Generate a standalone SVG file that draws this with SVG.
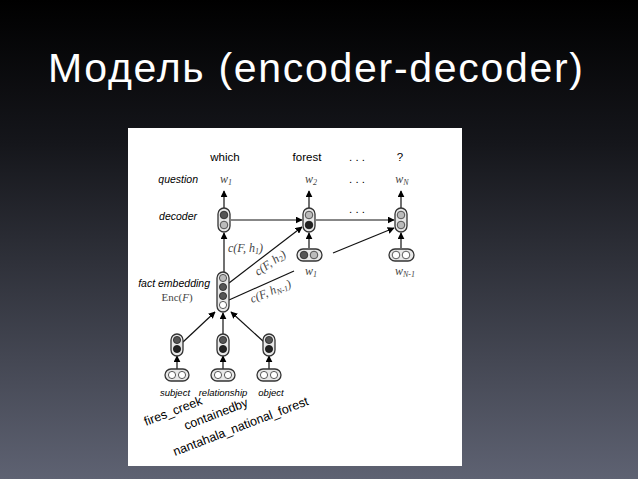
<svg xmlns="http://www.w3.org/2000/svg" width="638" height="479" viewBox="0 0 638 479">
<defs>
<linearGradient id="bg" x1="0" y1="0" x2="0" y2="1"><stop offset="0" stop-color="#000"/><stop offset="0.3" stop-color="#15161b"/><stop offset="1" stop-color="#5e6272"/></linearGradient>
<marker id="ar" viewBox="0 0 10 10" refX="9" refY="5" markerWidth="7" markerHeight="7" markerUnits="userSpaceOnUse" orient="auto"><path d="M0,0L10,5L0,10z" fill="#000"/></marker>
<style>
.cell{fill:#e8e8e8;stroke:#333;stroke-width:1.3}
.d{fill:#555;stroke:#222;stroke-width:0.8}
.k{fill:#222;stroke:#111;stroke-width:0.8}
.l{fill:#bbb;stroke:#333;stroke-width:0.8}
.w{fill:#fff;stroke:#333;stroke-width:0.8}
.ln{stroke:#111;stroke-width:1.2;fill:none}
.a{marker-end:url(#ar)}
.s{font-family:"Liberation Sans",Arial,sans-serif;font-size:11.5px;fill:#000}
.i{font-family:"Liberation Sans",Arial,sans-serif;font-size:10.5px;font-style:italic;fill:#000}
.b{font-family:"Liberation Sans",Arial,sans-serif;font-size:9.5px;font-style:italic;fill:#000}
.m{font-family:"Liberation Serif","Times New Roman",serif;font-size:12px;font-style:italic;fill:#444}
.n{font-family:"Liberation Serif","Times New Roman",serif;font-size:11px;fill:#444}
.r{font-family:"Liberation Sans",Arial,sans-serif;font-size:12.5px;fill:#000}
</style>
</defs>
<rect width="638" height="479" fill="url(#bg)"/>
<text x="48" y="82" font-family="Liberation Sans,Arial,sans-serif" font-size="41" fill="#fff" textLength="535">Модель (encoder-decoder)</text>
<rect x="128" y="128" width="334" height="338" fill="#fff"/>
<g id="labels">
<text class="s" x="225" y="161" text-anchor="middle">which</text>
<text class="s" x="307" y="161" text-anchor="middle">forest</text>
<text class="s" x="357" y="161" text-anchor="middle">. . .</text>
<text class="s" x="400" y="161" text-anchor="middle">?</text>
<text class="i" x="198" y="183" text-anchor="end">question</text>
<text class="i" x="197" y="220" text-anchor="end">decoder</text>
<text class="i" x="210" y="287" text-anchor="end">fact embedding</text>
<text class="n" x="177" y="301" text-anchor="middle">Enc(<tspan font-style="italic">F</tspan>)</text>
<text class="m" x="226" y="183" text-anchor="middle">w<tspan font-size="8" dy="2">1</tspan></text>
<text class="m" x="311" y="183" text-anchor="middle">w<tspan font-size="8" dy="2">2</tspan></text>
<text class="s" x="357" y="183" text-anchor="middle">. . .</text>
<text class="m" x="402" y="183" text-anchor="middle">w<tspan font-size="8" dy="2">N</tspan></text>
<text class="s" x="357" y="213" text-anchor="middle">. . .</text>
<text class="m" x="311" y="275" text-anchor="middle">w<tspan font-size="8" dy="2">1</tspan></text>
<text class="m" x="405" y="275" text-anchor="middle">w<tspan font-size="8" dy="2">N-1</tspan></text>
<text class="m" x="228" y="252">c(F, h<tspan font-size="8" dy="2">1</tspan><tspan dy="-2">)</tspan></text>
<text class="m" transform="translate(258,276) rotate(-35)">c(F, h<tspan font-size="8" dy="2">2</tspan><tspan dy="-2">)</tspan></text>
<text class="m" transform="translate(252,303) rotate(-22)">c(F, h<tspan font-size="8" dy="2">N-1</tspan><tspan dy="-2">)</tspan></text>
<text class="b" x="175" y="396" text-anchor="middle">subject</text>
<text class="b" x="223" y="396" text-anchor="middle">relationship</text>
<text class="b" x="271" y="396" text-anchor="middle">object</text>
<text class="r" transform="translate(146,426) rotate(-21)">fires_creek</text>
<text class="r" transform="translate(186,430) rotate(-21)">containedby</text>
<text class="r" transform="translate(175,456) rotate(-21)">nantahala_national_forest</text>
</g>
<g id="connectors">
<line class="ln a" x1="224" y1="208" x2="224" y2="191"/>
<line class="ln a" x1="309" y1="208" x2="309" y2="191"/>
<line class="ln a" x1="401" y1="208" x2="401" y2="191"/>
<line class="ln a" x1="231" y1="220" x2="302" y2="220"/>
<line class="ln a" x1="316" y1="220" x2="394" y2="220"/>
<line class="ln a" x1="309" y1="248" x2="309" y2="233"/>
<line class="ln a" x1="401" y1="248" x2="401" y2="233"/>
<line class="ln a" x1="224" y1="274" x2="224" y2="233"/>
<line class="ln a" x1="229" y1="283" x2="302" y2="227"/>
<line class="ln" x1="229" y1="300" x2="294" y2="271"/>
<line class="ln a" x1="333" y1="253" x2="394" y2="228"/>
<line class="ln a" x1="183" y1="342" x2="215" y2="312"/>
<line class="ln a" x1="223" y1="334" x2="223" y2="313"/>
<line class="ln a" x1="264" y1="342" x2="231" y2="312"/>
<line class="ln a" x1="177" y1="370" x2="177" y2="356"/>
<line class="ln a" x1="223" y1="370" x2="223" y2="356"/>
<line class="ln a" x1="269" y1="370" x2="269" y2="356"/>
</g>
<g id="dec1"><rect class="cell" x="218" y="208" width="12" height="24" rx="6"/><circle class="d" cx="224" cy="215" r="3.8"/><circle class="l" cx="224" cy="225" r="3.8"/></g>
<g id="dec2"><rect class="cell" x="303" y="208" width="12" height="24" rx="6"/><circle class="l" cx="309" cy="215" r="3.8"/><circle class="k" cx="309" cy="225" r="3.8"/></g>
<g id="dec3"><rect class="cell" x="395" y="208" width="12" height="24" rx="6"/><circle class="l" cx="401" cy="215" r="3.8"/><circle class="l" cx="401" cy="225" r="3.8"/></g>
<g id="in1"><rect class="cell" x="297" y="249" width="25" height="12" rx="6"/><circle class="d" cx="304" cy="255" r="3.8"/><circle class="l" cx="314" cy="255" r="3.8"/></g>
<g id="inN"><rect class="cell" x="389" y="249" width="25" height="12" rx="6"/><circle class="w" cx="396" cy="255" r="3.8"/><circle class="w" cx="406" cy="255" r="3.8"/></g>
<g id="fact"><rect class="cell" x="217" y="272" width="12" height="40" rx="6"/><circle class="l" cx="223" cy="278" r="3.6"/><circle class="d" cx="223" cy="287" r="3.6"/><circle class="d" cx="223" cy="296" r="3.6"/><circle class="w" cx="223" cy="305" r="3.6"/></g>
<g id="subj"><rect class="cell" x="171" y="334" width="12" height="22" rx="6"/><circle class="d" cx="177" cy="340" r="3.6"/><circle class="k" cx="177" cy="349" r="3.6"/></g>
<g id="rel"><rect class="cell" x="217" y="334" width="12" height="22" rx="6"/><circle class="d" cx="223" cy="340" r="3.6"/><circle class="k" cx="223" cy="349" r="3.6"/></g>
<g id="obj"><rect class="cell" x="263" y="334" width="12" height="22" rx="6"/><circle class="d" cx="269" cy="340" r="3.6"/><circle class="k" cx="269" cy="349" r="3.6"/></g>
<g id="subjIn"><rect class="cell" x="165" y="369" width="24" height="12" rx="6"/><circle class="w" cx="172" cy="375" r="3.6"/><circle class="w" cx="182" cy="375" r="3.6"/></g>
<g id="relIn"><rect class="cell" x="211" y="369" width="24" height="12" rx="6"/><circle class="w" cx="218" cy="375" r="3.6"/><circle class="w" cx="228" cy="375" r="3.6"/></g>
<g id="objIn"><rect class="cell" x="257" y="369" width="24" height="12" rx="6"/><circle class="w" cx="264" cy="375" r="3.6"/><circle class="w" cx="274" cy="375" r="3.6"/></g>
</svg>
